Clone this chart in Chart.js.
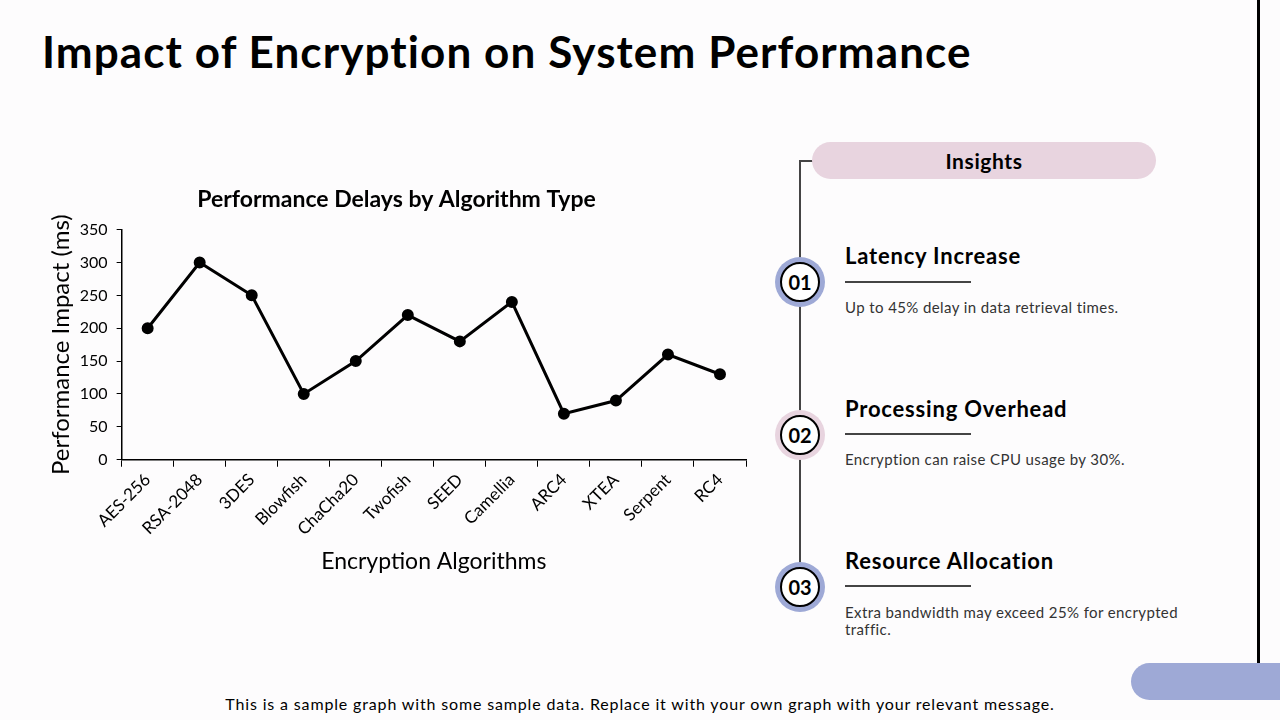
<!DOCTYPE html>
<html lang="en">
<head>
  <meta charset="UTF-8">
  <title>Impact of Encryption on System Performance</title>
  <script src="https://cdn.jsdelivr.net/npm/chart.js"></script>
  <style>
    body { margin: 0; width: 1280px; height: 720px; background: #fdfcfd; position: relative; overflow: hidden; font-family: "Lato", "DejaVu Sans", sans-serif; color: #000; }
    .title { position: absolute; left: 42px; top: 25px; font-size: 44px; font-weight: 700; letter-spacing: 1.1px; }
    .chart-box { position: absolute; left: 40px; top: 180px; width: 720px; height: 400px; }
    .edge-line { position: absolute; left: 1257px; top: 0; width: 3px; height: 690px; background: #000; }
    .corner-pill { position: absolute; left: 1131px; top: 663px; width: 200px; height: 37px; border-radius: 19px; background: #9ea9d6; }
    .insights { position: absolute; left: 812px; top: 142px; width: 344px; height: 37px; border-radius: 19px; background: #e8d4df; text-align: center; line-height: 37px; font-size: 21px; font-weight: 700; letter-spacing: 0.6px; }
    .timeline { position: absolute; left: 799px; top: 160px; width: 2px; height: 430px; background: #444; }
    .stub { position: absolute; left: 799px; top: 160px; width: 14px; height: 2px; background: #444; }
    .num { position: absolute; width: 36px; height: 36px; border-radius: 50%; background: #fff; border: 2px solid #000; text-align: center; line-height: 36px; font-size: 20px; font-weight: 700; }
    .ring { position: absolute; width: 50px; height: 50px; border-radius: 50%; }
    .head { position: absolute; left: 845px; font-size: 22px; font-weight: 700; letter-spacing: 0.8px; }
    .rule { position: absolute; left: 845px; width: 126px; height: 2px; background: #444; }
    .body { position: absolute; left: 845px; width: 350px; font-size: 15px; letter-spacing: 0.4px; color: #333; line-height: 17px; }
    .footer { position: absolute; left: 0; width: 1280px; top: 694px; text-align: center; font-size: 16px; letter-spacing: 0.85px; }
  </style>
</head>
<body>
  <div class="title">Impact of Encryption on System Performance</div>
  <div class="edge-line"></div>
  <div class="corner-pill"></div>

  <div class="chart-box"><canvas id="myChart" width="720" height="400"></canvas></div>

  <div class="timeline"></div>
  <div class="stub"></div>
  <div class="insights">Insights</div>

  <div class="ring" style="left:775px; top:257px; background:#9ea9d6;"></div>
  <div class="num" style="left:780px; top:262px;">01</div>
  <div class="head" style="top:242px;">Latency Increase</div>
  <div class="rule" style="top:281px;"></div>
  <div class="body" style="top:299px;">Up to 45% delay in data retrieval times.</div>

  <div class="ring" style="left:775px; top:410px; background:#e8d4df;"></div>
  <div class="num" style="left:780px; top:415px;">02</div>
  <div class="head" style="top:395px;">Processing Overhead</div>
  <div class="rule" style="top:433px;"></div>
  <div class="body" style="top:451px;">Encryption can raise CPU usage by 30%.</div>

  <div class="ring" style="left:775px; top:562px; background:#9ea9d6;"></div>
  <div class="num" style="left:780px; top:567px;">03</div>
  <div class="head" style="top:547px;">Resource Allocation</div>
  <div class="rule" style="top:585px;"></div>
  <div class="body" style="top:604px;">Extra bandwidth may exceed 25% for encrypted traffic.</div>

  <div class="footer">This is a sample graph with some sample data. Replace it with your own graph with your relevant message.</div>

  <script>
    const algorithms = ['AES-256', 'RSA-2048', '3DES', 'Blowfish', 'ChaCha20', 'Twofish', 'SEED', 'Camellia', 'ARC4', 'XTEA', 'Serpent', 'RC4'];
    const delays = [200, 300, 250, 100, 150, 220, 180, 240, 70, 90, 160, 130];
    const yMin = 0;
    const yMax = 350;
    const yStep = 50;

    const ctx = document.getElementById('myChart');
    const fontFamily = '"Lato", "DejaVu Sans", sans-serif';

    new Chart(ctx, {
      type: 'line',
      data: {
        labels: algorithms,
        datasets: [{
          label: 'Performance Impact (ms)',
          data: delays,
          borderColor: '#000',
          backgroundColor: '#000',
          borderWidth: 3,
          pointRadius: 4.5,
          pointBackgroundColor: '#000',
          tension: 0
        }]
      },
      options: {
        responsive: false,
        animation: false,
        layout: { padding: { top: 6, right: 14, left: 7, bottom: 5 } },
        plugins: {
          legend: { display: false },
          tooltip: { enabled: false },
          title: {
            display: true,
            text: 'Performance Delays by Algorithm Type',
            color: '#000',
            font: { family: fontFamily, size: 23, weight: 'bold' },
            padding: { top: 0, bottom: 16 }
          }
        },
        scales: {
          x: {
            offset: true,
            // rotated labels fit inside the left area already, drop the extra side padding
            afterFit: (scale) => { scale.paddingLeft = 0; scale.paddingRight = 0; },
            grid: { offset: true, drawOnChartArea: false, drawTicks: true, tickLength: 7, color: '#000' },
            border: { display: true, color: '#000', width: 1.5 },
            ticks: { color: '#000', maxRotation: 45, minRotation: 45, font: { family: fontFamily, size: 17 } },
            title: { display: true, text: 'Encryption Algorithms', color: '#000', font: { family: fontFamily, size: 23 }, padding: { top: 5, bottom: 0 } }
          },
          y: {
            min: yMin,
            max: yMax,
            ticks: { stepSize: yStep, color: '#000', font: { family: fontFamily, size: 16 }, padding: 9 },
            grid: { drawOnChartArea: false, drawTicks: true, tickLength: 5, color: '#000' },
            border: { display: true, color: '#000', width: 1.5 },
            title: { display: true, text: 'Performance Impact (ms)', color: '#000', font: { family: fontFamily, size: 24 }, padding: { top: 0, bottom: -5 } }
          }
        }
      }
    });
  </script>
</body>
</html>
